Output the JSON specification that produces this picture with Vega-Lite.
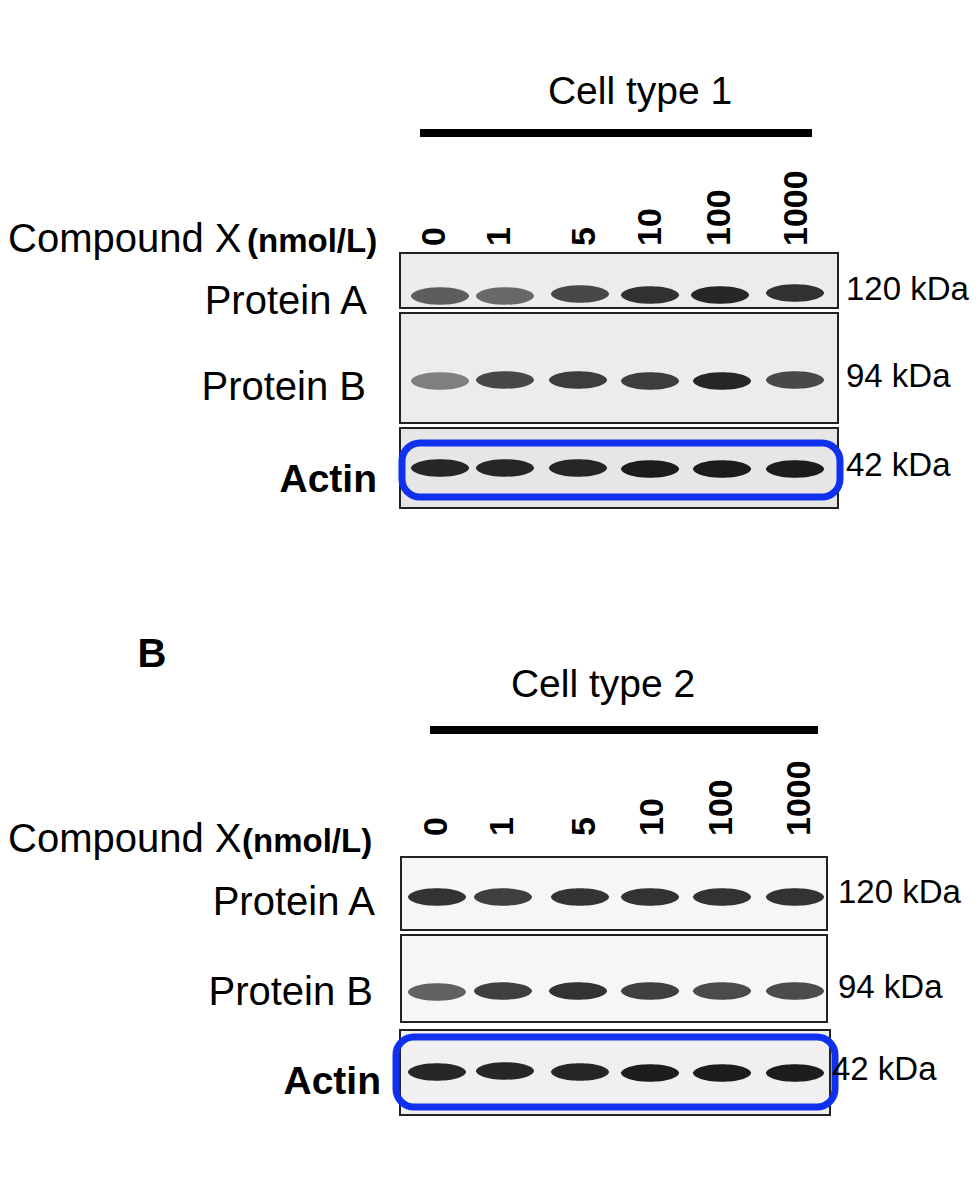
{
"$schema":"https://vega.github.io/schema/vega-lite/v6.json",
"autosize":{"type":"fit","contains":"padding"},
"width":980,"height":1188,"padding":0,
"background":"white",
"config":{"view":{"stroke":null},"font":"Liberation Sans"},
"datasets":{
"titles":[{"x":640,"y":92,"t":"Cell type 1"},{"x":603,"y":685,"t":"Cell type 2"}],
"compound":[{"x":8,"y":240,"t":"Compound X"},{"x":8,"y":840,"t":"Compound X"}],
"unit":[{"x":247,"y":242,"t":"(nmol/L)"},{"x":242,"y":842,"t":"(nmol/L)"}],
"proteins":[{"x":367,"y":302,"t":"Protein A"},{"x":366,"y":388,"t":"Protein B"},{"x":375,"y":903,"t":"Protein A"},{"x":373,"y":993,"t":"Protein B"}],
"actin":[{"x":377,"y":480,"t":"Actin"},{"x":381,"y":1082,"t":"Actin"}],
"kda":[{"x":846,"y":290,"t":"120 kDa"},{"x":846,"y":377,"t":"94 kDa"},{"x":846,"y":466,"t":"42 kDa"},{"x":838,"y":893,"t":"120 kDa"},{"x":838,"y":988,"t":"94 kDa"},{"x":832,"y":1070,"t":"42 kDa"}],
"doses":[{"x":435,"y":246,"t":"0"},{"x":500,"y":246,"t":"1"},{"x":585,"y":246,"t":"5"},{"x":651,"y":246,"t":"10"},{"x":720,"y":246,"t":"100"},{"x":797,"y":246,"t":"1000"},
{"x":437,"y":836,"t":"0"},{"x":503,"y":836,"t":"1"},{"x":585,"y":836,"t":"5"},{"x":653,"y":836,"t":"10"},{"x":722,"y":836,"t":"100"},{"x":800,"y":836,"t":"1000"}],
"letter":[{"x":152,"y":655,"t":"B"}],
"lines":[{"x":420,"x2":812,"y":133},{"x":430,"x2":818,"y":730}],
"panels":[{"x":400,"x2":838,"y":253,"y2":308,"f":"#ececec"},{"x":400,"x2":838,"y":313,"y2":423,"f":"#ececec"},{"x":400,"x2":838,"y":428,"y2":508,"f":"#e6e6e6"},
{"x":401,"x2":827,"y":857,"y2":930,"f":"#f6f6f6"},{"x":401,"x2":827,"y":935,"y2":1022,"f":"#f6f6f6"},{"x":400,"x2":830,"y":1030,"y2":1115,"f":"#f0f0f0"}],
"blue":[{"x":402,"x2":840,"y":443,"y2":497},{"x":396,"x2":835,"y":1037,"y2":1107}],
"bands":[
{"x":440,"y":296,"v":0.65},{"x":505,"y":296,"v":0.6},{"x":580,"y":294,"v":0.75},{"x":650,"y":295,"v":0.85},{"x":720,"y":295,"v":0.9},{"x":795,"y":293,"v":0.85},
{"x":440,"y":381,"v":0.5},{"x":505,"y":380,"v":0.75},{"x":578,"y":380,"v":0.8},{"x":650,"y":381,"v":0.8},{"x":722,"y":381,"v":0.9},{"x":795,"y":380,"v":0.75},
{"x":440,"y":468,"v":0.9},{"x":505,"y":468,"v":0.9},{"x":578,"y":468,"v":0.9},{"x":650,"y":469,"v":0.95},{"x":722,"y":469,"v":0.95},{"x":795,"y":469,"v":0.95},
{"x":437,"y":897,"v":0.85},{"x":503,"y":897,"v":0.8},{"x":580,"y":897,"v":0.85},{"x":650,"y":897,"v":0.85},{"x":722,"y":897,"v":0.85},{"x":795,"y":897,"v":0.85},
{"x":437,"y":992,"v":0.65},{"x":503,"y":991,"v":0.8},{"x":578,"y":991,"v":0.85},{"x":650,"y":991,"v":0.8},{"x":722,"y":991,"v":0.75},{"x":795,"y":991,"v":0.75},
{"x":437,"y":1072,"v":0.9},{"x":505,"y":1071,"v":0.9},{"x":580,"y":1072,"v":0.9},{"x":650,"y":1073,"v":0.95},{"x":722,"y":1073,"v":0.95},{"x":795,"y":1073,"v":0.95}]
},
"encoding":{
"x":{"field":"x","type":"quantitative","scale":{"domain":[0,980],"nice":false,"zero":false},"axis":null},
"y":{"field":"y","type":"quantitative","scale":{"domain":[0,1188],"reverse":true,"nice":false,"zero":false},"axis":null}
},
"layer":[
{"data":{"name":"panels"},"mark":{"type":"rect","stroke":"#222","strokeWidth":2},"encoding":{"x2":{"field":"x2"},"y2":{"field":"y2"},"fill":{"field":"f","type":"nominal","scale":null}}},
{"data":{"name":"bands"},"mark":{"type":"point","filled":true,"color":"#111","shape":"M-1,0 C-0.9,-0.4 0.9,-0.4 1,0 C0.9,0.4 -0.9,0.4 -1,0 Z","size":3400},"encoding":{"opacity":{"field":"v","type":"quantitative","scale":{"domain":[0,1],"range":[0,1]},"legend":null}}},
{"data":{"name":"blue"},"mark":{"type":"rect","fill":null,"stroke":"#1030f0","strokeWidth":7,"cornerRadius":18},"encoding":{"x2":{"field":"x2"},"y2":{"field":"y2"}}},
{"data":{"name":"lines"},"mark":{"type":"rule","strokeWidth":8,"color":"black"},"encoding":{"x2":{"field":"x2"}}},
{"data":{"name":"titles"},"mark":{"type":"text","fontSize":39,"align":"center","baseline":"middle"},"encoding":{"text":{"field":"t"}}},
{"data":{"name":"compound"},"mark":{"type":"text","fontSize":40,"align":"left","baseline":"middle"},"encoding":{"text":{"field":"t"}}},
{"data":{"name":"unit"},"mark":{"type":"text","fontSize":33,"fontWeight":"bold","align":"left","baseline":"middle"},"encoding":{"text":{"field":"t"}}},
{"data":{"name":"proteins"},"mark":{"type":"text","fontSize":40,"align":"right","baseline":"middle"},"encoding":{"text":{"field":"t"}}},
{"data":{"name":"actin"},"mark":{"type":"text","fontSize":39,"fontWeight":"bold","align":"right","baseline":"middle"},"encoding":{"text":{"field":"t"}}},
{"data":{"name":"kda"},"mark":{"type":"text","fontSize":33,"align":"left","baseline":"middle"},"encoding":{"text":{"field":"t"}}},
{"data":{"name":"doses"},"mark":{"type":"text","fontSize":34,"fontWeight":"bold","align":"left","baseline":"middle","angle":270},"encoding":{"text":{"field":"t"}}},
{"data":{"name":"letter"},"mark":{"type":"text","fontSize":40,"fontWeight":"bold","align":"center","baseline":"middle"},"encoding":{"text":{"field":"t"}}}
]
}
